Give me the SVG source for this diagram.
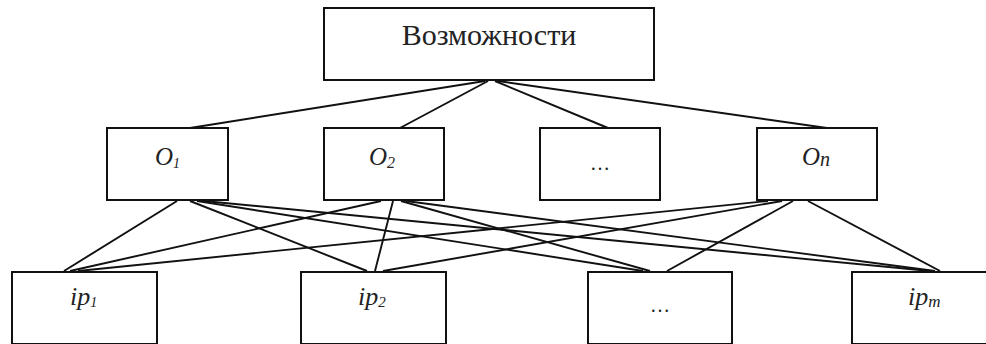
<svg xmlns="http://www.w3.org/2000/svg" width="986" height="344" viewBox="0 0 986 344">
<style>
.box{fill:#fff;stroke:#111;stroke-width:2}
.t{font-family:"Liberation Serif","Times New Roman",serif;fill:#222}
.i{font-style:italic}
.c line{stroke:#111;stroke-width:1.9}
</style>
<rect x="0" y="0" width="986" height="344" fill="#fff"/>
<g class="c" id="connectors">
<line x1="485" y1="81" x2="190" y2="128"/>
<line x1="488" y1="81" x2="400" y2="128"/>
<line x1="495" y1="81" x2="608" y2="128"/>
<line x1="498" y1="81" x2="827" y2="128"/>
<line x1="177" y1="201" x2="64" y2="271"/>
<line x1="190" y1="201" x2="367" y2="271"/>
<line x1="197" y1="201" x2="643" y2="271"/>
<line x1="204" y1="201" x2="930" y2="271"/>
<line x1="381" y1="201" x2="70" y2="271"/>
<line x1="393" y1="201" x2="375" y2="271"/>
<line x1="401" y1="201" x2="650" y2="271"/>
<line x1="406" y1="201" x2="935" y2="271"/>
<line x1="768" y1="201" x2="78" y2="271"/>
<line x1="782" y1="201" x2="383" y2="271"/>
<line x1="793" y1="201" x2="667" y2="271"/>
<line x1="808" y1="201" x2="940" y2="271"/>
</g>
<g id="top"><rect class="box" x="324" y="8" width="330" height="72"/><text class="t" x="489" y="45" font-size="30" text-anchor="middle">Возможности</text></g>
<g id="o1"><rect class="box" x="107" y="128" width="121" height="72"/><text class="t i" x="155" y="165" font-size="25">O<tspan font-size="14" dy="3">1</tspan></text></g>
<g id="o2"><rect class="box" x="324" y="128" width="120" height="72"/><text class="t i" x="369" y="165" font-size="25">O<tspan font-size="16" dy="3">2</tspan></text></g>
<g id="odots"><rect class="box" x="540" y="128" width="120" height="72"/><text class="t" x="600" y="170" font-size="20" text-anchor="middle">…</text></g>
<g id="on"><rect class="box" x="757" y="128" width="120" height="72"/><text class="t i" x="802" y="165" font-size="25">O<tspan font-size="20" dy="1">n</tspan></text></g>
<g id="ip1"><rect class="box" x="12" y="272" width="145" height="72"/><text class="t i" x="70" y="305" font-size="26">ip<tspan font-size="14" dy="2">1</tspan></text></g>
<g id="ip2"><rect class="box" x="301" y="272" width="145" height="72"/><text class="t i" x="358" y="305" font-size="26">ip<tspan font-size="15" dy="2">2</tspan></text></g>
<g id="ipdots"><rect class="box" x="588" y="272" width="144" height="72"/><text class="t" x="660" y="312" font-size="20" text-anchor="middle">…</text></g>
<g id="ipm"><rect class="box" x="852" y="272" width="150" height="72"/><text class="t i" x="908" y="305" font-size="26">ip<tspan font-size="17" dy="2">m</tspan></text></g>
</svg>
